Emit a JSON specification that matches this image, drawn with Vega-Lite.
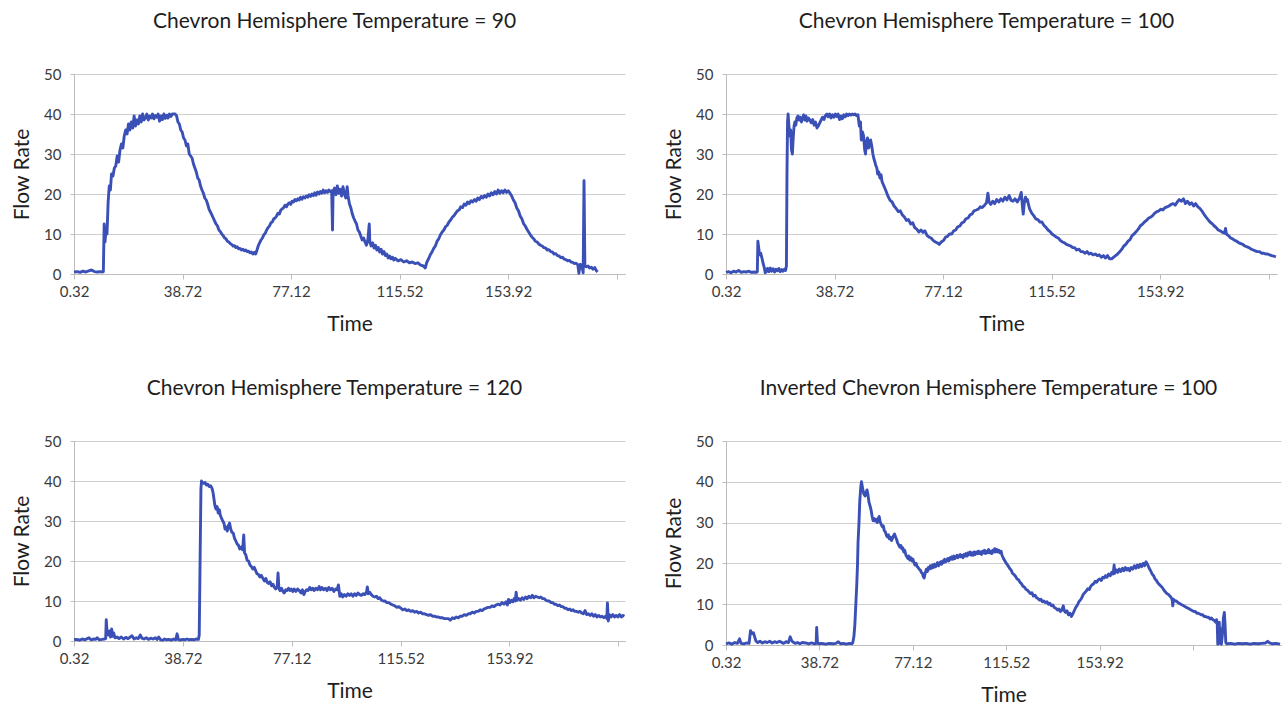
{
  "$schema": "https://vega.github.io/schema/vega-lite/v6.json",
  "background": "white",
  "padding": {"left": 11, "top": 11, "right": 0, "bottom": 0},
  "columns": 2,
  "bounds": "flush",
  "spacing": {"row": 167, "column": 101},
  "config": {
    "view": {"stroke": null},
    "font": "Lato",
    "axis": {
      "labelFont": "Lato",
      "labelFontSize": 15,
      "labelColor": "#3a3a3a",
      "titleFont": "Lato",
      "titleFontSize": 21,
      "titleFontWeight": "normal",
      "titleColor": "#1e1e1e",
      "domainColor": "#bdbdbd",
      "tickColor": "#bdbdbd",
      "gridColor": "#cfcfcf"
    },
    "axisX": {
      "grid": false,
      "tickSize": 5,
      "labelPadding": 5,
      "titlePadding": 14,
      "labelFlush": false,
      "labelBound": false,
      "labelOverlap": false,
      "labelExpr": "datum.value > 190 ? '' : format(datum.value, '.2f')"
    },
    "axisY": {
      "grid": true,
      "tickSize": 4,
      "labelPadding": 9,
      "titlePadding": 11,
      "values": [0, 10, 20, 30, 40, 50]
    },
    "title": {"font": "Lato", "fontSize": 21, "fontWeight": "normal", "color": "#1e1e1e", "anchor": "middle", "offset": 35, "dx": -15},
    "line": {"color": "#3b50b6", "strokeWidth": 2.9, "strokeJoin": "round", "interpolate": "linear"}
  },
  "datasets": {
    "p1": [
      {"t":0.32,"v":0.5},{"t":1.5,"v":0.6},{"t":2.5,"v":0.4},{"t":3.5,"v":0.7},{"t":4.5,"v":0.5},{"t":5.5,"v":0.8},{"t":6.5,"v":1.0},{"t":7.5,"v":0.6},{"t":8.5,"v":0.5},{"t":9.5,"v":0.6},{"t":10.4,"v":0.5},{"t":10.7,"v":0.6},
      {"t":11.0,"v":12.5},{"t":11.3,"v":8.0},{"t":11.7,"v":11.5},{"t":12.0,"v":10.0},{"t":12.4,"v":18.0},{"t":12.8,"v":22.0},{"t":13.2,"v":21.0},{"t":13.6,"v":25.0},{"t":14.1,"v":24.5},{"t":14.6,"v":26.5},{"t":15.1,"v":27.0},{"t":15.6,"v":29.5},{"t":16.1,"v":28.0},{"t":16.6,"v":31.0},{"t":17.1,"v":32.5},{"t":17.6,"v":31.5},{"t":18.1,"v":34.5},{"t":18.6,"v":36.0},{"t":19.1,"v":35.0},{"t":19.6,"v":37.5},{"t":20.1,"v":36.0},{"t":20.6,"v":38.0},{"t":21.1,"v":36.5},{"t":21.6,"v":39.5},{"t":22.1,"v":37.0},{"t":22.6,"v":38.5},{"t":23.1,"v":37.5},{"t":23.6,"v":39.5},{"t":24.1,"v":38.0},{"t":24.6,"v":40.0},{"t":25.1,"v":38.5},{"t":25.6,"v":39.0},{"t":26.1,"v":40.0},{"t":26.6,"v":38.5},{"t":27.1,"v":39.5},{"t":27.6,"v":39.0},{"t":28.1,"v":40.0},{"t":28.6,"v":38.8},{"t":29.1,"v":39.6},{"t":29.6,"v":39.2},{"t":30.1,"v":40.0},{"t":30.6,"v":38.2},{"t":31.1,"v":39.5},{"t":31.6,"v":38.6},{"t":32.1,"v":40.0},{"t":32.6,"v":38.9},{"t":33.1,"v":39.7},{"t":33.6,"v":39.0},{"t":34.1,"v":40.0},{"t":34.6,"v":39.4},{"t":35.1,"v":40.0},{"t":35.6,"v":40.0},{"t":36.1,"v":40.0},{"t":36.6,"v":39.6},
      {"t":37.1,"v":38.0},{"t":37.6,"v":37.5},{"t":38.1,"v":36.0},{"t":38.6,"v":35.5},{"t":39.1,"v":34.0},{"t":39.6,"v":33.5},{"t":40.1,"v":32.0},{"t":40.6,"v":32.5},{"t":41.1,"v":30.0},{"t":41.6,"v":29.5},{"t":42.1,"v":29.0},{"t":42.6,"v":27.5},{"t":43.1,"v":26.5},{"t":43.6,"v":25.5},{"t":44.1,"v":24.0},{"t":44.6,"v":23.5},{"t":45.1,"v":22.0},{"t":45.6,"v":21.0},{"t":46.1,"v":20.2},{"t":46.6,"v":19.0},{"t":47.1,"v":18.5},{"t":47.6,"v":17.5},{"t":48.1,"v":16.2},{"t":48.6,"v":15.5},{"t":49.1,"v":14.8},{"t":49.6,"v":14.0},{"t":50.1,"v":13.2},{"t":50.6,"v":12.5},{"t":51.1,"v":12.0},{"t":51.6,"v":11.0},{"t":52.1,"v":10.6},{"t":52.6,"v":10.0},{"t":53.1,"v":9.6},{"t":53.6,"v":9.0},{"t":54.1,"v":8.8},{"t":54.6,"v":8.2},{"t":55.1,"v":8.0},{"t":55.6,"v":7.6},{"t":56.1,"v":7.4},{"t":56.6,"v":7.0},{"t":57.1,"v":7.1},{"t":57.6,"v":6.6},{"t":58.1,"v":6.8},{"t":58.6,"v":6.3},{"t":59.1,"v":6.4},{"t":59.6,"v":6.0},{"t":60.1,"v":6.2},{"t":60.6,"v":5.8},{"t":61.1,"v":6.0},{"t":61.6,"v":5.6},{"t":62.1,"v":5.7},{"t":62.6,"v":5.3},{"t":63.1,"v":5.5},{"t":63.6,"v":5.0},{"t":64.1,"v":5.4},{"t":64.6,"v":5.0},
      {"t":65.0,"v":5.8},{"t":65.5,"v":7.0},{"t":66.0,"v":7.8},{"t":66.5,"v":8.5},{"t":67.0,"v":9.0},{"t":67.5,"v":9.8},{"t":68.0,"v":10.2},{"t":68.5,"v":11.0},{"t":69.0,"v":11.6},{"t":69.5,"v":12.0},{"t":70.0,"v":12.8},{"t":70.5,"v":13.0},{"t":71.0,"v":13.8},{"t":71.5,"v":14.0},{"t":72.0,"v":14.5},{"t":72.5,"v":15.2},{"t":73.0,"v":15.0},{"t":73.5,"v":16.0},{"t":74.0,"v":16.3},{"t":74.5,"v":16.6},{"t":75.0,"v":17.2},{"t":75.5,"v":16.8},{"t":76.0,"v":17.5},{"t":76.5,"v":17.8},{"t":77.0,"v":17.4},{"t":77.5,"v":18.2},{"t":78.0,"v":18.0},{"t":78.5,"v":18.6},{"t":79.0,"v":18.3},{"t":79.5,"v":18.8},{"t":80.0,"v":18.5},{"t":80.5,"v":19.2},{"t":81.0,"v":18.7},{"t":81.5,"v":19.3},{"t":82.0,"v":19.0},{"t":82.5,"v":19.5},{"t":83.0,"v":19.2},{"t":83.5,"v":19.8},{"t":84.0,"v":19.4},{"t":84.5,"v":20.0},{"t":85.0,"v":19.6},{"t":85.5,"v":20.3},{"t":86.0,"v":19.7},{"t":86.5,"v":20.5},{"t":87.0,"v":20.0},{"t":87.5,"v":20.6},{"t":88.0,"v":20.2},{"t":88.5,"v":21.0},{"t":89.0,"v":20.3},{"t":89.5,"v":20.8},{"t":90.0,"v":20.4},{"t":90.5,"v":21.0},{"t":91.0,"v":20.6},{"t":91.5,"v":20.8},{"t":91.8,"v":11.0},{"t":92.0,"v":20.5},{"t":92.5,"v":21.5},{"t":93.0,"v":19.8},{"t":93.5,"v":22.0},{"t":94.0,"v":20.2},{"t":94.5,"v":21.2},{"t":95.0,"v":19.5},{"t":95.5,"v":21.8},{"t":96.0,"v":20.0},{"t":96.5,"v":19.0},{"t":97.0,"v":21.8},
      {"t":97.3,"v":19.5},{"t":97.8,"v":17.5},{"t":98.3,"v":16.5},{"t":98.8,"v":15.0},{"t":99.3,"v":14.0},{"t":99.8,"v":13.2},{"t":100.3,"v":12.5},{"t":100.8,"v":11.0},{"t":101.3,"v":10.5},{"t":101.8,"v":9.5},{"t":102.3,"v":8.5},{"t":102.8,"v":9.0},{"t":103.3,"v":8.0},{"t":103.8,"v":7.2},{"t":104.3,"v":8.5},{"t":104.8,"v":12.5},{"t":105.0,"v":8.0},{"t":105.5,"v":7.0},{"t":106.0,"v":7.8},{"t":106.5,"v":6.5},{"t":107.0,"v":7.2},{"t":107.5,"v":6.0},{"t":108.0,"v":6.6},{"t":108.5,"v":5.5},{"t":109.0,"v":6.2},{"t":109.5,"v":5.0},{"t":110.0,"v":5.6},{"t":110.5,"v":4.6},{"t":111.0,"v":5.0},{"t":111.5,"v":4.0},{"t":112.0,"v":4.5},{"t":112.5,"v":3.8},{"t":113.0,"v":4.2},{"t":113.5,"v":3.5},{"t":114.0,"v":3.9},{"t":115.0,"v":3.3},{"t":116.0,"v":3.6},{"t":117.0,"v":3.0},{"t":118.0,"v":3.3},{"t":119.0,"v":2.8},{"t":120.0,"v":3.0},{"t":121.0,"v":2.6},{"t":122.0,"v":2.8},{"t":123.0,"v":2.2},{"t":124.0,"v":2.0},{"t":124.6,"v":1.5},
      {"t":125.2,"v":3.0},{"t":125.8,"v":3.8},{"t":126.4,"v":4.8},{"t":127.0,"v":5.5},{"t":127.6,"v":6.4},{"t":128.2,"v":7.0},{"t":128.8,"v":8.2},{"t":129.4,"v":8.8},{"t":130.0,"v":9.8},{"t":130.6,"v":10.5},{"t":131.2,"v":11.0},{"t":131.8,"v":11.8},{"t":132.4,"v":12.2},{"t":133.0,"v":13.0},{"t":133.6,"v":13.5},{"t":134.2,"v":14.2},{"t":134.8,"v":14.6},{"t":135.4,"v":15.2},{"t":136.0,"v":15.8},{"t":136.6,"v":16.0},{"t":137.2,"v":16.8},{"t":137.8,"v":16.6},{"t":138.4,"v":17.5},{"t":139.0,"v":17.2},{"t":139.6,"v":18.0},{"t":140.2,"v":17.6},{"t":140.8,"v":18.3},{"t":141.4,"v":18.0},{"t":142.0,"v":18.6},{"t":142.6,"v":18.2},{"t":143.2,"v":19.0},{"t":143.8,"v":18.6},{"t":144.4,"v":19.4},{"t":145.0,"v":19.0},{"t":145.6,"v":19.6},{"t":146.2,"v":19.2},{"t":146.8,"v":20.0},{"t":147.4,"v":19.5},{"t":148.0,"v":20.3},{"t":148.6,"v":19.8},{"t":149.2,"v":20.6},{"t":149.8,"v":20.0},{"t":150.4,"v":21.0},{"t":151.0,"v":20.2},{"t":151.6,"v":20.8},{"t":152.2,"v":20.3},{"t":152.8,"v":21.0},{"t":153.4,"v":20.4},{"t":154.0,"v":20.8},{"t":154.6,"v":20.2},
      {"t":155.2,"v":19.5},{"t":155.8,"v":18.5},{"t":156.4,"v":17.8},{"t":157.0,"v":16.5},{"t":157.6,"v":15.8},{"t":158.2,"v":14.5},{"t":158.8,"v":13.8},{"t":159.4,"v":12.6},{"t":160.0,"v":12.0},{"t":160.6,"v":11.2},{"t":161.2,"v":10.5},{"t":161.8,"v":9.8},{"t":162.4,"v":9.2},{"t":163.0,"v":8.8},{"t":163.6,"v":8.2},{"t":164.2,"v":8.0},{"t":164.8,"v":7.5},{"t":165.4,"v":7.2},{"t":166.0,"v":7.0},{"t":166.6,"v":6.6},{"t":167.2,"v":6.5},{"t":167.8,"v":6.0},{"t":168.4,"v":6.1},{"t":169.0,"v":5.6},{"t":169.6,"v":5.5},{"t":170.2,"v":5.0},{"t":170.8,"v":5.1},{"t":171.4,"v":4.6},{"t":172.0,"v":4.5},{"t":172.6,"v":4.1},{"t":173.2,"v":4.2},{"t":173.8,"v":3.7},{"t":174.4,"v":3.6},{"t":175.0,"v":3.3},{"t":175.6,"v":3.4},{"t":176.2,"v":3.0},{"t":176.8,"v":2.9},{"t":177.4,"v":2.6},{"t":178.0,"v":2.7},{"t":178.6,"v":2.3},{"t":179.0,"v":0.2},{"t":179.4,"v":2.4},{"t":180.0,"v":2.2},{"t":180.5,"v":0.3},{"t":180.8,"v":23.3},{"t":181.1,"v":2.0},{"t":181.6,"v":1.8},{"t":182.2,"v":2.0},{"t":182.8,"v":1.5},{"t":183.4,"v":1.7},{"t":184.0,"v":1.2},{"t":184.6,"v":1.6},{"t":185.2,"v":0.8},{"t":185.6,"v":0.5}
    ],
    "p2": [
      {"t":0.32,"v":0.4},{"t":1.2,"v":0.6},{"t":2.1,"v":0.3},{"t":3.0,"v":0.7},{"t":3.9,"v":0.5},{"t":4.8,"v":0.9},{"t":5.7,"v":0.4},{"t":6.6,"v":0.6},{"t":7.5,"v":0.5},{"t":8.4,"v":0.7},{"t":9.3,"v":0.4},{"t":10.2,"v":0.5},{"t":11.1,"v":0.4},{"t":11.4,"v":0.6},{"t":11.6,"v":8.2},{"t":11.9,"v":6.5},{"t":12.2,"v":4.8},{"t":12.6,"v":5.2},{"t":13.1,"v":3.8},{"t":13.5,"v":2.5},{"t":13.8,"v":1.8},{"t":14.2,"v":0.3},{"t":14.5,"v":0.5},{"t":15.0,"v":1.4},{"t":15.5,"v":0.6},{"t":16.0,"v":1.5},{"t":16.5,"v":0.7},{"t":17.0,"v":1.3},{"t":17.5,"v":0.5},{"t":18.0,"v":1.2},{"t":18.5,"v":0.8},{"t":19.0,"v":1.4},{"t":19.5,"v":0.6},{"t":20.0,"v":1.1},{"t":20.5,"v":0.7},{"t":21.0,"v":1.2},{"t":21.4,"v":0.9},{"t":21.7,"v":2.0},
      {"t":21.9,"v":25.0},{"t":22.1,"v":38.0},{"t":22.3,"v":40.0},{"t":22.6,"v":37.0},{"t":22.9,"v":34.5},{"t":23.2,"v":36.0},{"t":23.5,"v":31.0},{"t":23.8,"v":30.0},{"t":24.1,"v":34.0},{"t":24.4,"v":37.0},{"t":24.7,"v":38.0},{"t":25.0,"v":37.2},{"t":25.4,"v":39.0},{"t":25.8,"v":39.5},{"t":26.2,"v":38.5},{"t":26.6,"v":39.2},{"t":27.0,"v":38.0},{"t":27.4,"v":38.8},{"t":27.8,"v":39.8},{"t":28.2,"v":38.5},{"t":28.6,"v":39.5},{"t":29.0,"v":38.2},{"t":29.5,"v":39.0},{"t":30.0,"v":38.5},{"t":30.5,"v":37.8},{"t":31.0,"v":38.6},{"t":31.5,"v":37.2},{"t":32.0,"v":38.0},{"t":32.5,"v":36.5},{"t":33.0,"v":37.0},{"t":33.5,"v":37.8},{"t":34.0,"v":38.5},{"t":34.5,"v":39.2},{"t":35.0,"v":38.6},{"t":35.5,"v":39.6},{"t":36.0,"v":40.0},{"t":36.5,"v":39.3},{"t":37.0,"v":40.0},{"t":37.5,"v":39.0},{"t":38.0,"v":39.8},{"t":38.5,"v":39.2},{"t":39.0,"v":40.0},{"t":39.5,"v":39.4},{"t":40.0,"v":40.0},{"t":40.5,"v":38.6},{"t":41.0,"v":39.5},{"t":41.5,"v":38.8},{"t":42.0,"v":39.8},{"t":42.5,"v":39.3},{"t":43.0,"v":40.0},{"t":43.5,"v":39.6},{"t":44.0,"v":40.0},{"t":44.5,"v":39.7},{"t":45.0,"v":40.0},{"t":45.5,"v":39.8},{"t":46.0,"v":40.0},{"t":46.5,"v":39.6},{"t":47.0,"v":39.8},
      {"t":47.5,"v":37.0},{"t":47.9,"v":38.0},{"t":48.2,"v":33.5},{"t":48.6,"v":35.5},{"t":49.0,"v":34.5},{"t":49.4,"v":31.0},{"t":49.7,"v":30.0},{"t":50.0,"v":33.0},{"t":50.4,"v":34.0},{"t":50.8,"v":31.5},{"t":51.1,"v":32.5},{"t":51.5,"v":33.5},{"t":51.9,"v":32.0},{"t":52.3,"v":30.0},{"t":52.6,"v":29.0},{"t":53.0,"v":28.0},{"t":53.3,"v":27.2},{"t":53.7,"v":26.5},{"t":54.0,"v":25.0},{"t":54.4,"v":25.5},{"t":54.8,"v":24.0},{"t":55.2,"v":24.8},{"t":55.5,"v":23.2},{"t":56.2,"v":22.0},{"t":56.9,"v":20.8},{"t":57.6,"v":19.5},{"t":58.4,"v":18.4},{"t":59.1,"v":18.0},{"t":59.8,"v":17.0},{"t":60.5,"v":16.4},{"t":61.3,"v":15.6},{"t":62.0,"v":15.8},{"t":62.7,"v":14.8},{"t":63.5,"v":14.2},{"t":64.2,"v":13.4},{"t":64.9,"v":13.6},{"t":65.7,"v":12.5},{"t":66.4,"v":12.8},{"t":67.1,"v":11.6},{"t":67.8,"v":11.2},{"t":68.6,"v":10.5},{"t":69.3,"v":11.0},{"t":70.0,"v":10.4},{"t":70.7,"v":10.8},{"t":71.5,"v":9.6},{"t":72.2,"v":9.2},{"t":72.9,"v":9.0},{"t":73.6,"v":8.4},{"t":74.4,"v":8.0},{"t":75.1,"v":7.8},{"t":75.8,"v":7.4},{"t":76.5,"v":8.0},{"t":77.3,"v":8.4},{"t":78.0,"v":9.2},{"t":78.7,"v":9.4},{"t":79.4,"v":10.0},{"t":80.2,"v":10.0},{"t":80.9,"v":10.8},{"t":81.6,"v":11.0},{"t":82.3,"v":11.8},{"t":83.1,"v":12.0},{"t":83.8,"v":12.8},{"t":84.5,"v":13.0},{"t":85.2,"v":13.8},{"t":86.0,"v":14.0},{"t":86.7,"v":14.8},{"t":87.4,"v":15.0},{"t":88.1,"v":15.8},{"t":88.9,"v":16.0},{"t":89.6,"v":16.2},{"t":90.3,"v":16.8},{"t":91.0,"v":16.6},{"t":91.8,"v":17.2},{"t":92.5,"v":17.8},{"t":93.0,"v":20.2},{"t":93.4,"v":18.0},{"t":94.0,"v":17.4},{"t":94.7,"v":18.2},{"t":95.4,"v":17.6},{"t":96.1,"v":18.6},{"t":96.9,"v":18.0},{"t":97.6,"v":18.8},{"t":98.3,"v":18.2},{"t":99.0,"v":19.2},{"t":99.7,"v":18.5},{"t":100.5,"v":19.6},{"t":101.2,"v":18.4},{"t":101.9,"v":18.2},{"t":102.6,"v":18.8},{"t":103.4,"v":18.0},{"t":104.2,"v":19.0},{"t":104.8,"v":20.4},{"t":105.2,"v":17.0},{"t":105.5,"v":15.0},{"t":105.9,"v":18.0},{"t":106.3,"v":19.2},{"t":106.7,"v":18.2},{"t":107.0,"v":18.6},{"t":107.4,"v":17.2},{"t":107.8,"v":16.2},{"t":108.5,"v":15.2},{"t":109.2,"v":14.6},{"t":109.9,"v":13.8},{"t":110.7,"v":13.6},{"t":111.4,"v":13.0},{"t":112.1,"v":13.0},{"t":112.8,"v":12.2},{"t":113.6,"v":11.6},{"t":114.3,"v":11.0},{"t":115.0,"v":10.6},{"t":115.7,"v":10.0},{"t":116.5,"v":9.6},{"t":117.2,"v":9.2},{"t":117.9,"v":9.0},{"t":118.6,"v":8.4},{"t":119.4,"v":8.0},{"t":120.1,"v":7.8},{"t":120.8,"v":7.4},{"t":121.5,"v":7.2},{"t":122.3,"v":7.0},{"t":123.0,"v":6.6},{"t":123.7,"v":6.6},{"t":124.4,"v":6.0},{"t":125.2,"v":6.2},{"t":125.9,"v":5.6},{"t":126.6,"v":5.6},{"t":127.3,"v":5.2},{"t":128.1,"v":5.6},{"t":128.8,"v":5.0},{"t":129.5,"v":5.2},{"t":130.2,"v":4.8},{"t":131.0,"v":5.0},{"t":131.7,"v":4.6},{"t":132.4,"v":4.8},{"t":133.1,"v":4.2},{"t":133.9,"v":4.6},{"t":134.6,"v":4.0},{"t":135.3,"v":4.6},{"t":136.0,"v":3.8},{"t":136.8,"v":3.8},{"t":137.5,"v":4.2},{"t":138.2,"v":4.6},{"t":138.9,"v":5.0},{"t":139.7,"v":5.6},{"t":140.4,"v":6.2},{"t":141.1,"v":7.0},{"t":141.8,"v":7.4},{"t":142.6,"v":8.2},{"t":143.3,"v":8.6},{"t":144.0,"v":9.6},{"t":144.7,"v":10.0},{"t":145.5,"v":10.6},{"t":146.2,"v":11.2},{"t":146.9,"v":12.0},{"t":147.6,"v":12.4},{"t":148.4,"v":13.0},{"t":149.1,"v":13.4},{"t":149.9,"v":14.0},{"t":150.6,"v":14.2},{"t":151.3,"v":14.6},{"t":152.0,"v":15.2},{"t":152.8,"v":15.6},{"t":153.5,"v":15.8},{"t":154.2,"v":16.2},{"t":154.9,"v":16.0},{"t":155.7,"v":16.6},{"t":156.4,"v":16.8},{"t":157.1,"v":17.0},{"t":157.8,"v":17.4},{"t":158.6,"v":17.6},{"t":159.3,"v":17.2},{"t":160.0,"v":18.0},{"t":160.7,"v":18.6},{"t":161.5,"v":18.2},{"t":162.2,"v":18.8},{"t":162.9,"v":17.6},{"t":163.6,"v":18.2},{"t":164.4,"v":17.4},{"t":165.1,"v":17.8},{"t":165.8,"v":17.0},{"t":166.5,"v":17.6},{"t":167.3,"v":16.8},{"t":168.0,"v":16.4},{"t":168.7,"v":15.8},{"t":169.4,"v":15.0},{"t":170.2,"v":14.2},{"t":170.9,"v":13.6},{"t":171.6,"v":13.0},{"t":172.3,"v":12.6},{"t":173.1,"v":12.0},{"t":173.8,"v":11.6},{"t":174.5,"v":11.0},{"t":175.2,"v":10.8},{"t":176.0,"v":10.4},{"t":176.7,"v":10.2},{"t":177.1,"v":11.4},{"t":177.4,"v":10.0},{"t":178.1,"v":9.6},{"t":178.9,"v":9.0},{"t":179.6,"v":8.8},{"t":180.3,"v":8.4},{"t":181.0,"v":8.2},{"t":181.8,"v":7.8},{"t":182.5,"v":7.6},{"t":183.2,"v":7.4},{"t":183.9,"v":7.0},{"t":184.7,"v":6.8},{"t":185.4,"v":6.6},{"t":186.2,"v":6.2},{"t":186.9,"v":6.0},{"t":187.6,"v":5.8},{"t":188.3,"v":5.6},{"t":189.1,"v":5.6},{"t":189.8,"v":5.2},{"t":190.5,"v":5.2},{"t":191.2,"v":5.0},{"t":192.0,"v":5.0},{"t":192.7,"v":4.8},{"t":193.4,"v":4.6},{"t":194.1,"v":4.5},{"t":194.9,"v":4.3}
    ],
    "p3": [
      {"t":0.32,"v":0.3},{"t":1.3,"v":0.4},{"t":2.3,"v":0.2},{"t":3.3,"v":0.5},{"t":4.3,"v":0.3},{"t":5.0,"v":0.6},{"t":5.6,"v":0.8},{"t":6.3,"v":0.3},{"t":7.3,"v":0.5},{"t":8.0,"v":0.4},{"t":8.5,"v":0.8},{"t":9.2,"v":0.3},{"t":10.2,"v":0.4},{"t":11.0,"v":0.5},{"t":11.5,"v":0.6},{"t":11.7,"v":5.3},{"t":12.0,"v":2.0},{"t":12.4,"v":1.5},{"t":12.8,"v":2.5},{"t":13.2,"v":1.0},{"t":13.6,"v":3.0},{"t":14.0,"v":1.2},{"t":14.3,"v":2.0},{"t":14.8,"v":0.8},{"t":15.5,"v":1.0},{"t":16.2,"v":0.6},{"t":17.0,"v":1.0},{"t":17.8,"v":0.5},{"t":18.6,"v":0.9},{"t":19.4,"v":0.6},{"t":20.2,"v":1.0},{"t":20.8,"v":1.3},{"t":21.5,"v":0.5},{"t":22.3,"v":0.8},{"t":23.0,"v":0.6},{"t":23.7,"v":1.5},{"t":24.3,"v":0.7},{"t":25.0,"v":0.5},{"t":25.8,"v":0.8},{"t":26.6,"v":0.4},{"t":27.4,"v":0.7},{"t":28.2,"v":0.5},{"t":29.0,"v":0.8},{"t":29.6,"v":0.4},{"t":30.2,"v":1.0},{"t":30.9,"v":0.3},{"t":31.6,"v":0.2},{"t":32.3,"v":0.5},{"t":33.0,"v":0.3},{"t":33.8,"v":0.4},{"t":34.6,"v":0.2},{"t":35.4,"v":0.5},{"t":36.2,"v":0.3},{"t":36.7,"v":1.8},{"t":37.1,"v":0.4},{"t":37.8,"v":0.2},{"t":38.6,"v":0.4},{"t":39.4,"v":0.3},{"t":40.2,"v":0.5},{"t":41.0,"v":0.3},{"t":41.8,"v":0.4},{"t":42.6,"v":0.3},{"t":43.4,"v":0.5},{"t":44.2,"v":0.4},{"t":44.5,"v":1.5},
      {"t":44.8,"v":20.0},{"t":45.1,"v":38.0},{"t":45.3,"v":40.0},{"t":45.7,"v":39.6},{"t":46.1,"v":39.4},{"t":46.6,"v":39.6},{"t":47.0,"v":39.0},{"t":47.5,"v":39.2},{"t":48.0,"v":38.6},{"t":48.5,"v":38.8},{"t":49.0,"v":38.2},{"t":49.4,"v":37.0},{"t":49.7,"v":35.5},{"t":50.0,"v":34.0},{"t":50.4,"v":33.0},{"t":50.8,"v":33.6},{"t":51.2,"v":32.0},{"t":51.6,"v":32.8},{"t":51.9,"v":31.5},{"t":52.3,"v":30.8},{"t":52.8,"v":30.0},{"t":53.2,"v":29.5},{"t":53.6,"v":28.0},{"t":54.0,"v":28.5},{"t":54.4,"v":27.5},{"t":54.8,"v":28.8},{"t":55.2,"v":29.5},{"t":55.6,"v":28.0},{"t":56.0,"v":27.2},{"t":56.5,"v":27.0},{"t":56.9,"v":25.8},{"t":57.4,"v":25.0},{"t":57.9,"v":24.2},{"t":58.3,"v":24.0},{"t":58.8,"v":23.0},{"t":59.3,"v":23.5},{"t":59.8,"v":22.8},{"t":60.2,"v":26.5},{"t":60.5,"v":22.0},{"t":60.9,"v":21.6},{"t":61.4,"v":20.2},{"t":61.9,"v":20.0},{"t":62.4,"v":19.0},{"t":62.9,"v":18.6},{"t":63.4,"v":18.0},{"t":63.9,"v":18.4},{"t":64.4,"v":17.6},{"t":64.9,"v":16.8},{"t":65.4,"v":16.6},{"t":65.9,"v":16.0},{"t":66.4,"v":16.4},{"t":67.0,"v":15.6},{"t":67.5,"v":15.0},{"t":68.0,"v":15.6},{"t":68.5,"v":14.6},{"t":69.0,"v":14.4},{"t":69.5,"v":14.8},{"t":70.0,"v":13.8},{"t":70.5,"v":14.2},{"t":71.0,"v":13.4},{"t":71.5,"v":13.0},{"t":72.0,"v":13.6},{"t":72.3,"v":17.0},{"t":72.6,"v":13.2},{"t":73.0,"v":12.6},{"t":73.5,"v":13.2},{"t":74.0,"v":12.4},{"t":74.5,"v":12.0},{"t":75.0,"v":12.8},{"t":75.5,"v":12.6},{"t":76.0,"v":13.2},{"t":76.5,"v":12.6},{"t":77.0,"v":13.0},{"t":77.5,"v":12.4},{"t":78.0,"v":13.0},{"t":78.6,"v":12.4},{"t":79.2,"v":13.0},{"t":79.8,"v":12.6},{"t":80.4,"v":12.0},{"t":80.9,"v":12.8},{"t":81.4,"v":11.6},{"t":81.9,"v":12.4},{"t":82.4,"v":12.8},{"t":82.9,"v":12.6},{"t":83.5,"v":13.4},{"t":84.0,"v":12.8},{"t":84.5,"v":13.2},{"t":85.0,"v":12.6},{"t":85.6,"v":13.2},{"t":86.2,"v":12.8},{"t":86.8,"v":13.6},{"t":87.3,"v":12.8},{"t":87.8,"v":13.4},{"t":88.4,"v":12.8},{"t":89.0,"v":13.2},{"t":89.6,"v":12.6},{"t":90.2,"v":13.4},{"t":90.8,"v":12.8},{"t":91.4,"v":13.2},{"t":92.0,"v":12.4},{"t":92.6,"v":13.0},{"t":93.1,"v":12.8},{"t":93.6,"v":14.0},{"t":94.1,"v":11.2},{"t":94.6,"v":11.8},{"t":95.1,"v":11.0},{"t":95.7,"v":11.6},{"t":96.3,"v":11.2},{"t":96.9,"v":11.8},{"t":97.5,"v":11.4},{"t":98.1,"v":11.8},{"t":98.7,"v":11.2},{"t":99.3,"v":11.8},{"t":99.9,"v":11.4},{"t":100.5,"v":12.0},{"t":101.1,"v":11.6},{"t":101.7,"v":11.4},{"t":102.3,"v":11.8},{"t":102.9,"v":11.6},{"t":103.5,"v":12.2},{"t":103.8,"v":13.5},{"t":104.1,"v":11.8},{"t":104.6,"v":12.2},{"t":105.2,"v":11.6},{"t":105.8,"v":11.2},{"t":106.4,"v":11.0},{"t":107.0,"v":11.2},{"t":107.6,"v":10.6},{"t":108.2,"v":10.8},{"t":108.8,"v":10.2},{"t":109.4,"v":10.0},{"t":110.0,"v":10.0},{"t":110.7,"v":9.6},{"t":111.4,"v":9.6},{"t":112.1,"v":9.2},{"t":112.8,"v":9.0},{"t":113.5,"v":8.8},{"t":114.2,"v":8.4},{"t":114.9,"v":8.6},{"t":115.6,"v":8.2},{"t":116.3,"v":7.8},{"t":117.0,"v":8.0},{"t":117.7,"v":7.6},{"t":118.4,"v":7.8},{"t":119.1,"v":7.4},{"t":119.8,"v":7.6},{"t":120.5,"v":7.2},{"t":121.2,"v":7.4},{"t":121.9,"v":7.0},{"t":122.6,"v":7.2},{"t":123.3,"v":6.8},{"t":124.0,"v":6.8},{"t":124.7,"v":6.6},{"t":125.4,"v":6.4},{"t":126.1,"v":6.6},{"t":126.8,"v":6.2},{"t":127.5,"v":6.2},{"t":128.2,"v":6.0},{"t":128.9,"v":6.0},{"t":129.6,"v":5.8},{"t":130.3,"v":5.8},{"t":131.0,"v":5.6},{"t":131.7,"v":5.6},{"t":132.4,"v":5.6},{"t":133.1,"v":5.2},{"t":133.8,"v":5.8},{"t":134.5,"v":5.6},{"t":135.2,"v":6.0},{"t":135.9,"v":5.8},{"t":136.6,"v":6.2},{"t":137.3,"v":6.2},{"t":138.0,"v":6.6},{"t":138.7,"v":6.4},{"t":139.4,"v":6.8},{"t":140.1,"v":6.8},{"t":140.8,"v":7.2},{"t":141.5,"v":7.0},{"t":142.2,"v":7.4},{"t":142.9,"v":7.4},{"t":143.6,"v":7.8},{"t":144.3,"v":7.6},{"t":145.0,"v":8.0},{"t":145.7,"v":8.2},{"t":146.4,"v":8.4},{"t":147.1,"v":8.4},{"t":147.8,"v":8.8},{"t":148.5,"v":8.6},{"t":149.2,"v":9.0},{"t":149.9,"v":9.2},{"t":150.6,"v":9.0},{"t":151.3,"v":9.6},{"t":152.0,"v":9.2},{"t":152.7,"v":9.8},{"t":153.2,"v":9.0},{"t":153.6,"v":10.4},{"t":154.1,"v":9.6},{"t":154.6,"v":10.2},{"t":155.1,"v":9.8},{"t":155.6,"v":10.6},{"t":156.0,"v":10.0},{"t":156.3,"v":12.2},{"t":156.6,"v":10.2},{"t":157.2,"v":10.6},{"t":157.8,"v":10.2},{"t":158.4,"v":10.8},{"t":159.0,"v":10.4},{"t":159.6,"v":11.0},{"t":160.2,"v":10.6},{"t":160.8,"v":11.2},{"t":161.4,"v":10.8},{"t":162.0,"v":11.4},{"t":162.6,"v":10.8},{"t":163.2,"v":11.2},{"t":163.8,"v":11.0},{"t":164.4,"v":10.8},{"t":165.0,"v":11.0},{"t":165.6,"v":10.6},{"t":166.2,"v":10.6},{"t":166.8,"v":10.2},{"t":167.4,"v":10.0},{"t":168.0,"v":10.0},{"t":168.6,"v":9.6},{"t":169.2,"v":9.6},{"t":169.8,"v":9.2},{"t":170.4,"v":9.2},{"t":171.0,"v":8.8},{"t":171.6,"v":9.0},{"t":172.2,"v":8.6},{"t":172.8,"v":8.6},{"t":173.4,"v":8.2},{"t":174.0,"v":8.2},{"t":174.6,"v":7.8},{"t":175.2,"v":8.0},{"t":175.8,"v":7.6},{"t":176.4,"v":7.8},{"t":177.0,"v":7.4},{"t":177.6,"v":7.4},{"t":178.2,"v":7.2},{"t":178.8,"v":7.4},{"t":179.4,"v":7.0},{"t":180.0,"v":6.8},{"t":180.6,"v":7.6},{"t":181.2,"v":6.6},{"t":181.8,"v":6.8},{"t":182.4,"v":6.4},{"t":183.0,"v":6.8},{"t":183.6,"v":6.2},{"t":184.2,"v":6.6},{"t":184.8,"v":6.0},{"t":185.4,"v":6.4},{"t":186.0,"v":6.0},{"t":186.6,"v":6.2},{"t":187.2,"v":5.8},{"t":187.8,"v":6.2},{"t":188.3,"v":5.6},{"t":188.5,"v":9.5},{"t":188.8,"v":5.0},{"t":189.2,"v":6.6},{"t":189.8,"v":6.0},{"t":190.4,"v":6.6},{"t":191.0,"v":6.0},{"t":191.6,"v":6.4},{"t":192.2,"v":6.0},{"t":192.8,"v":6.6},{"t":193.4,"v":6.0},{"t":194.0,"v":6.4},{"t":194.5,"v":6.2}
    ],
    "p4": [
      {"t":0.32,"v":0.3},{"t":1.5,"v":0.5},{"t":2.7,"v":0.2},{"t":3.9,"v":0.6},{"t":5.0,"v":0.4},{"t":5.9,"v":1.5},{"t":6.5,"v":0.4},{"t":7.7,"v":0.3},{"t":8.9,"v":0.5},{"t":9.8,"v":0.4},{"t":10.4,"v":3.5},{"t":11.0,"v":2.8},{"t":11.6,"v":3.0},{"t":12.2,"v":1.8},{"t":12.6,"v":1.0},{"t":13.4,"v":0.6},{"t":14.3,"v":0.9},{"t":15.3,"v":0.5},{"t":16.3,"v":0.8},{"t":17.3,"v":0.6},{"t":18.3,"v":0.9},{"t":19.3,"v":0.5},{"t":20.3,"v":0.8},{"t":21.3,"v":0.6},{"t":22.3,"v":0.9},{"t":23.0,"v":0.7},{"t":24.0,"v":0.4},{"t":25.0,"v":0.8},{"t":26.0,"v":0.6},{"t":26.7,"v":2.0},{"t":27.2,"v":1.2},{"t":27.7,"v":0.8},{"t":28.7,"v":0.4},{"t":29.7,"v":0.6},{"t":30.7,"v":0.3},{"t":31.7,"v":0.6},{"t":33.1,"v":0.5},{"t":34.3,"v":0.3},{"t":35.5,"v":0.5},{"t":36.7,"v":0.3},{"t":37.4,"v":0.4},{"t":37.6,"v":4.3},{"t":37.9,"v":0.8},{"t":38.3,"v":0.3},{"t":39.8,"v":0.4},{"t":41.3,"v":0.2},{"t":42.8,"v":0.4},{"t":44.3,"v":0.3},{"t":45.5,"v":0.4},{"t":46.5,"v":0.8},{"t":47.4,"v":0.3},{"t":48.6,"v":0.4},{"t":49.8,"v":0.2},{"t":51.0,"v":0.4},{"t":52.0,"v":0.3},{"t":52.4,"v":0.5},
      {"t":52.9,"v":2.0},{"t":53.3,"v":5.0},{"t":53.7,"v":10.0},{"t":54.1,"v":15.0},{"t":54.4,"v":20.0},{"t":54.6,"v":25.0},{"t":55.0,"v":30.0},{"t":55.3,"v":35.0},{"t":55.7,"v":38.5},{"t":56.0,"v":40.0},{"t":56.3,"v":39.0},{"t":56.6,"v":38.0},{"t":57.0,"v":37.0},{"t":57.5,"v":36.5},{"t":57.9,"v":37.4},{"t":58.3,"v":38.0},{"t":58.7,"v":36.8},{"t":59.1,"v":35.0},{"t":59.5,"v":34.2},{"t":60.0,"v":33.0},{"t":60.4,"v":31.5},{"t":60.8,"v":30.5},{"t":61.2,"v":31.0},{"t":61.6,"v":30.4},{"t":62.1,"v":30.8},{"t":62.5,"v":30.0},{"t":62.9,"v":31.0},{"t":63.3,"v":31.5},{"t":63.7,"v":30.2},{"t":64.1,"v":29.6},{"t":64.6,"v":29.0},{"t":65.0,"v":29.2},{"t":65.4,"v":28.0},{"t":65.8,"v":27.8},{"t":66.3,"v":26.8},{"t":66.7,"v":26.5},{"t":67.1,"v":27.0},{"t":67.5,"v":26.0},{"t":68.0,"v":26.4},{"t":68.4,"v":25.6},{"t":68.8,"v":26.2},{"t":69.2,"v":26.8},{"t":69.6,"v":27.2},{"t":70.1,"v":26.4},{"t":70.5,"v":25.8},{"t":70.9,"v":25.0},{"t":71.3,"v":24.6},{"t":71.7,"v":24.0},{"t":72.2,"v":24.4},{"t":72.6,"v":23.6},{"t":73.0,"v":23.8},{"t":73.4,"v":22.8},{"t":73.8,"v":23.2},{"t":74.3,"v":22.0},{"t":74.7,"v":21.6},{"t":75.1,"v":21.2},{"t":75.5,"v":21.8},{"t":75.9,"v":20.8},{"t":76.4,"v":21.4},{"t":76.8,"v":20.6},{"t":77.2,"v":21.0},{"t":77.6,"v":20.2},{"t":78.0,"v":19.6},{"t":78.5,"v":20.0},{"t":78.9,"v":19.2},{"t":79.3,"v":19.0},{"t":79.7,"v":18.6},{"t":80.2,"v":18.4},{"t":80.6,"v":17.8},{"t":81.0,"v":17.6},{"t":81.4,"v":16.8},{"t":81.8,"v":16.4},{"t":82.2,"v":17.6},{"t":82.7,"v":18.6},{"t":83.1,"v":18.0},{"t":83.5,"v":19.0},{"t":83.9,"v":18.6},{"t":84.3,"v":19.4},{"t":84.8,"v":18.8},{"t":85.2,"v":19.6},{"t":85.6,"v":19.0},{"t":86.0,"v":19.8},{"t":86.5,"v":19.2},{"t":86.9,"v":19.6},{"t":87.3,"v":20.2},{"t":87.7,"v":19.4},{"t":88.2,"v":20.0},{"t":88.6,"v":20.4},{"t":89.0,"v":19.8},{"t":89.4,"v":20.6},{"t":89.8,"v":20.2},{"t":90.2,"v":21.0},{"t":90.7,"v":20.4},{"t":91.1,"v":20.8},{"t":91.5,"v":21.2},{"t":91.9,"v":20.6},{"t":92.4,"v":21.4},{"t":92.8,"v":21.0},{"t":93.2,"v":21.6},{"t":93.6,"v":21.0},{"t":94.0,"v":21.8},{"t":94.5,"v":21.2},{"t":94.9,"v":21.6},{"t":95.3,"v":22.0},{"t":95.7,"v":21.4},{"t":96.2,"v":21.8},{"t":96.6,"v":22.2},{"t":97.0,"v":21.6},{"t":97.4,"v":22.0},{"t":97.8,"v":21.4},{"t":98.2,"v":22.2},{"t":98.6,"v":21.8},{"t":99.0,"v":22.4},{"t":99.5,"v":21.8},{"t":99.9,"v":22.6},{"t":100.3,"v":22.2},{"t":100.7,"v":22.8},{"t":101.2,"v":22.0},{"t":101.6,"v":22.6},{"t":102.0,"v":22.0},{"t":102.4,"v":22.8},{"t":102.8,"v":22.2},{"t":103.3,"v":22.8},{"t":103.7,"v":22.4},{"t":104.1,"v":23.0},{"t":104.5,"v":22.4},{"t":105.0,"v":22.8},{"t":105.4,"v":22.2},{"t":105.8,"v":23.0},{"t":106.2,"v":22.6},{"t":106.6,"v":23.2},{"t":107.0,"v":22.4},{"t":107.5,"v":23.0},{"t":107.9,"v":22.6},{"t":108.3,"v":23.4},{"t":108.7,"v":22.6},{"t":109.2,"v":23.0},{"t":109.6,"v":22.4},{"t":110.0,"v":23.2},{"t":110.4,"v":22.8},{"t":110.8,"v":23.6},{"t":111.2,"v":22.8},{"t":111.7,"v":23.4},{"t":112.1,"v":22.8},{"t":112.5,"v":23.2},{"t":112.9,"v":22.6},{"t":113.4,"v":23.0},{"t":113.8,"v":22.0},
      {"t":114.4,"v":21.2},{"t":115.0,"v":20.6},{"t":115.6,"v":20.0},{"t":116.3,"v":19.4},{"t":116.9,"v":18.8},{"t":117.5,"v":18.4},{"t":118.1,"v":17.6},{"t":118.8,"v":17.2},{"t":119.4,"v":16.8},{"t":120.0,"v":16.2},{"t":120.6,"v":16.0},{"t":121.2,"v":15.4},{"t":121.8,"v":15.0},{"t":122.4,"v":14.4},{"t":123.0,"v":14.2},{"t":123.7,"v":13.6},{"t":124.3,"v":13.4},{"t":124.9,"v":13.0},{"t":125.5,"v":12.6},{"t":126.1,"v":12.8},{"t":126.7,"v":12.0},{"t":127.4,"v":12.2},{"t":128.0,"v":11.6},{"t":128.6,"v":11.4},{"t":129.2,"v":11.0},{"t":129.8,"v":11.2},{"t":130.4,"v":10.6},{"t":131.0,"v":10.8},{"t":131.6,"v":10.4},{"t":132.3,"v":10.6},{"t":132.9,"v":10.0},{"t":133.5,"v":10.2},{"t":134.1,"v":9.6},{"t":134.7,"v":9.8},{"t":135.3,"v":9.2},{"t":135.9,"v":9.0},{"t":136.6,"v":8.6},{"t":137.2,"v":8.8},{"t":137.8,"v":8.2},{"t":138.4,"v":8.6},{"t":139.0,"v":9.6},{"t":139.4,"v":8.4},{"t":139.9,"v":8.0},{"t":140.5,"v":8.4},{"t":141.1,"v":7.4},{"t":141.7,"v":7.8},{"t":142.3,"v":7.0},{"t":142.9,"v":7.6},{"t":143.5,"v":8.4},{"t":144.1,"v":9.2},{"t":144.8,"v":9.8},{"t":145.4,"v":10.6},{"t":146.0,"v":11.0},{"t":146.6,"v":11.6},{"t":147.2,"v":12.4},{"t":147.8,"v":12.8},{"t":148.4,"v":13.2},{"t":149.1,"v":13.8},{"t":149.7,"v":13.6},{"t":150.3,"v":14.4},{"t":150.9,"v":14.8},{"t":151.5,"v":15.0},{"t":152.1,"v":15.6},{"t":152.7,"v":15.4},{"t":153.4,"v":16.0},{"t":154.0,"v":16.2},{"t":154.6,"v":15.8},{"t":155.2,"v":16.6},{"t":155.8,"v":16.4},{"t":156.4,"v":17.0},{"t":157.0,"v":16.6},{"t":157.6,"v":17.4},{"t":158.3,"v":17.0},{"t":158.9,"v":17.8},{"t":159.5,"v":17.4},{"t":159.9,"v":19.6},{"t":160.2,"v":17.6},{"t":160.8,"v":18.4},{"t":161.4,"v":17.8},{"t":162.0,"v":18.6},{"t":162.6,"v":18.0},{"t":163.3,"v":18.8},{"t":163.9,"v":18.2},{"t":164.5,"v":19.0},{"t":165.1,"v":18.4},{"t":165.7,"v":18.8},{"t":166.3,"v":18.2},{"t":166.9,"v":19.0},{"t":167.5,"v":18.6},{"t":168.2,"v":19.4},{"t":168.8,"v":18.8},{"t":169.4,"v":19.6},{"t":170.0,"v":19.0},{"t":170.6,"v":19.8},{"t":171.2,"v":19.2},{"t":171.8,"v":20.0},{"t":172.4,"v":19.4},{"t":173.0,"v":20.4},{"t":173.6,"v":19.8},
      {"t":174.3,"v":18.8},{"t":174.9,"v":18.2},{"t":175.5,"v":17.4},{"t":176.1,"v":17.0},{"t":176.7,"v":16.2},{"t":177.3,"v":15.8},{"t":177.9,"v":15.2},{"t":178.5,"v":14.8},{"t":179.2,"v":14.4},{"t":179.8,"v":14.0},{"t":180.4,"v":13.4},{"t":181.0,"v":13.0},{"t":181.6,"v":12.6},{"t":182.2,"v":12.4},{"t":182.8,"v":12.0},{"t":183.4,"v":11.6},{"t":183.8,"v":11.0},{"t":184.0,"v":9.6},{"t":184.3,"v":11.2},{"t":184.9,"v":10.8},{"t":185.5,"v":10.8},{"t":186.1,"v":10.4},{"t":186.7,"v":10.2},{"t":187.3,"v":10.0},{"t":187.9,"v":9.8},{"t":188.5,"v":9.6},{"t":189.1,"v":9.4},{"t":189.7,"v":9.2},{"t":190.3,"v":9.0},{"t":190.9,"v":8.8},{"t":191.5,"v":8.6},{"t":192.1,"v":8.4},{"t":192.7,"v":8.2},{"t":193.3,"v":8.2},{"t":193.9,"v":7.8},{"t":194.5,"v":7.8},{"t":195.1,"v":7.6},{"t":195.7,"v":7.4},{"t":196.3,"v":7.4},{"t":196.9,"v":7.0},{"t":197.5,"v":7.0},{"t":198.1,"v":6.8},{"t":198.7,"v":6.8},{"t":199.3,"v":6.4},{"t":199.9,"v":6.6},{"t":200.5,"v":6.2},{"t":201.1,"v":6.0},{"t":201.6,"v":5.6},{"t":202.0,"v":6.2},{"t":202.3,"v":5.0},{"t":202.5,"v":0.2},{"t":202.8,"v":3.0},{"t":203.1,"v":5.6},{"t":203.4,"v":0.4},{"t":203.7,"v":4.0},{"t":204.0,"v":0.2},{"t":204.4,"v":2.5},{"t":204.8,"v":6.5},{"t":205.2,"v":8.0},{"t":205.5,"v":5.0},{"t":205.8,"v":0.6},{"t":206.2,"v":0.3},{"t":207.9,"v":0.4},{"t":209.5,"v":0.2},{"t":211.0,"v":0.4},{"t":212.6,"v":0.3},{"t":214.2,"v":0.4},{"t":215.8,"v":0.2},{"t":217.4,"v":0.4},{"t":219.0,"v":0.3},{"t":220.6,"v":0.4},{"t":222.2,"v":0.5},{"t":223.0,"v":0.9},{"t":223.8,"v":0.5},{"t":225.0,"v":0.3},{"t":226.5,"v":0.4},{"t":228.1,"v":0.2}
    ]
  },
  "concat": [
    {
      "title": "Chevron Hemisphere Temperature = 90",
      "width": 551,
      "height": 200,
      "data": {"name": "p1"},
      "mark": "line",
      "encoding": {
        "x": {"field": "t", "type": "quantitative", "title": "Time", "scale": {"domain": [0.32, 195.3], "nice": false, "zero": false}, "axis": {"values": [0.32, 38.72, 77.12, 115.52, 153.92, 192.32]}},
        "y": {"field": "v", "type": "quantitative", "title": "Flow Rate", "scale": {"domain": [0, 50], "nice": false}}
      }
    },
    {
      "title": "Chevron Hemisphere Temperature = 100",
      "width": 551,
      "height": 200,
      "data": {"name": "p2"},
      "mark": "line",
      "encoding": {
        "x": {"field": "t", "type": "quantitative", "title": "Time", "scale": {"domain": [0.32, 195.3], "nice": false, "zero": false}, "axis": {"values": [0.32, 38.72, 77.12, 115.52, 153.92, 192.32]}},
        "y": {"field": "v", "type": "quantitative", "title": "Flow Rate", "scale": {"domain": [0, 50], "nice": false}}
      }
    },
    {
      "title": "Chevron Hemisphere Temperature = 120",
      "width": 551,
      "height": 200,
      "data": {"name": "p3"},
      "mark": "line",
      "encoding": {
        "x": {"field": "t", "type": "quantitative", "title": "Time", "scale": {"domain": [0.32, 194.7], "nice": false, "zero": false}, "axis": {"values": [0.32, 38.72, 77.12, 115.52, 153.92, 192.32]}},
        "y": {"field": "v", "type": "quantitative", "title": "Flow Rate", "scale": {"domain": [0, 50], "nice": false}}
      }
    },
    {
      "title": "Inverted Chevron Hemisphere Temperature = 100",
      "width": 555,
      "height": 204,
      "data": {"name": "p4"},
      "mark": "line",
      "encoding": {
        "x": {"field": "t", "type": "quantitative", "title": "Time", "scale": {"domain": [0.32, 228.5], "nice": false, "zero": false}, "axis": {"values": [0.32, 38.72, 77.12, 115.52, 153.92, 192.32]}},
        "y": {"field": "v", "type": "quantitative", "title": "Flow Rate", "scale": {"domain": [0, 50], "nice": false}}
      }
    }
  ]
}
